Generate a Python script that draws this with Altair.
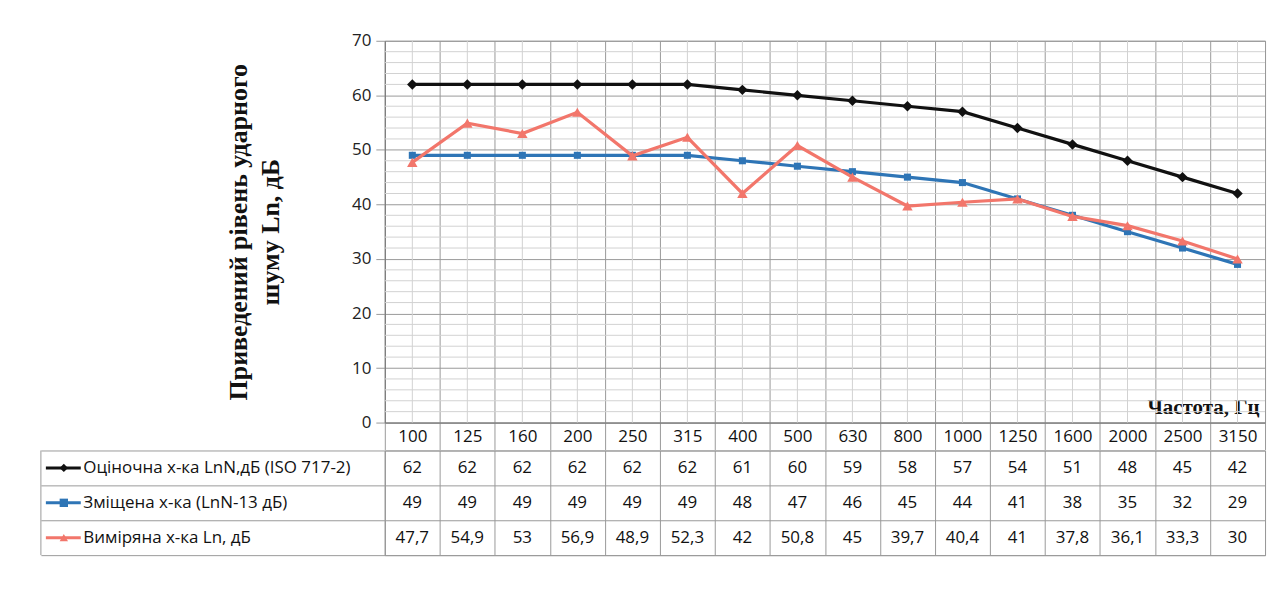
import altair as alt
import pandas as pd

freqs = ["100", "125", "160", "200", "250", "315", "400", "500", "630", "800",
         "1000", "1250", "1600", "2000", "2500", "3150"]
series_names = ["Оціночна х-ка LnN,дБ (ISO 717-2)",
                "Зміщена х-ка (LnN-13 дБ)",
                "Виміряна х-ка Ln, дБ"]
ref_curve = [62, 62, 62, 62, 62, 62, 61, 60, 59, 58, 57, 54, 51, 48, 45, 42]
shifted = [49, 49, 49, 49, 49, 49, 48, 47, 46, 45, 44, 41, 38, 35, 32, 29]
measured = [47.7, 54.9, 53, 56.9, 48.9, 52.3, 42, 50.8, 45, 39.7, 40.4, 41, 37.8, 36.1, 33.3, 30]
y_major = list(range(0, 71, 10))
y_minor = [v for v in range(0, 71, 2) if v % 10]

colors = ["#111111", "#2E75B6", "#F2766B"]
shapes = ["diamond", "square", "triangle-up"]
sizes = [110, 50, 110]

values = [ref_curve, shifted, measured]
rows = []
for s, vals in zip(series_names, values):
    for f, v in zip(freqs, vals):
        rows.append({"freq": f, "series": s, "value": v,
                     "label": f"{v:g}".replace(".", ",")})
df = pd.DataFrame(rows)
keys = pd.DataFrame({"series": series_names})

FONT = "Open Sans"
SERIF = "Liberation Serif"
GRID = "#9a9a9a"
MINOR = "#d2d2d2"

xscale = alt.Scale(type="band", domain=freqs, paddingInner=0, paddingOuter=0)
yscale = alt.Scale(domain=[0, 70], nice=False)

x_axis = alt.Axis(
    title="Частота, Гц", titleFont=SERIF, titleFontWeight="bold", titleFontSize=21,
    titleColor="#111", titleAlign="right", titleX=877, titleY=-9,
    titleBaseline="alphabetic", titleAnchor="end",
    labelAngle=0, labelFont=FONT, labelFontSize=17, labelColor="#111",
    labelBaseline="middle", labelPadding=-13.5, labelOverlap=False,
    ticks=True, tickBand="extent", tickSize=27, tickColor=GRID,
    domainColor="#777", grid=True, gridColor=GRID)
y_axis = alt.Axis(
    values=y_major, title=["Приведений рівень ударного", "шуму  Ln, дБ"],
    titleFont=SERIF, titleFontWeight="bold", titleFontSize=26, titleColor="#111",
    titlePadding=68, titleLineHeight=32,
    labelFont=FONT, labelFontSize=17, labelColor="#222", labelPadding=5,
    tickSize=9, tickColor=GRID, domainColor="#777", grid=True, gridColor=GRID)

X = alt.X("freq:N", sort=freqs, scale=xscale, axis=x_axis, bandPosition=0.5)
Y = alt.Y("value:Q", scale=yscale, axis=y_axis)

minor_h = alt.Chart(pd.DataFrame({"value": y_minor})).mark_rule(
    color=MINOR, strokeWidth=1).encode(y=Y)
minor_v = alt.Chart(pd.DataFrame({"freq": freqs})).mark_rule(
    color=MINOR, strokeWidth=1).encode(x=X)

layers = [minor_h, minor_v]
for s, c, sh, sz in zip(series_names, colors, shapes, sizes):
    base = alt.Chart(df[df["series"] == s]).encode(x=X, y=Y)
    layers.append(base.mark_line(color=c, strokeWidth=3.2))
    layers.append(base.mark_point(color=c, shape=sh, size=sz, filled=True, opacity=1))

top = alt.layer(*layers).properties(width=883, height=383)

# data table under the plot
tx_axis = alt.Axis(title=None, labels=False, ticks=False, domain=False,
                   grid=True, tickBand="extent", gridColor=GRID)
ty_axis = alt.Axis(title=None, tickBand="extent", tickSize=345, tickColor=GRID,
                   labelAlign="left", labelPadding=-42, labelFont=FONT,
                   labelFontSize=17, labelColor="#111", labelLimit=400,
                   domainColor=GRID, grid=True, gridColor=GRID)
tyscale = alt.Scale(type="band", domain=series_names, paddingInner=0, paddingOuter=0)
TX = alt.X("freq:N", sort=freqs, scale=xscale, axis=tx_axis)
TY = alt.Y("series:N", sort=series_names, scale=tyscale, axis=ty_axis, bandPosition=0.5)
cscale = alt.Scale(domain=series_names, range=colors)
sscale = alt.Scale(domain=series_names, range=shapes)

cells = alt.Chart(df).mark_text(font=FONT, fontSize=17, color="#111").encode(
    x=TX, y=TY, text="label:N")
key_line = alt.Chart(keys).mark_rule(strokeWidth=3).encode(
    x=alt.value(-340), x2=alt.value(-305), y=TY,
    color=alt.Color("series:N", scale=cscale, legend=None))
key_pt = alt.Chart(keys).mark_point(filled=True, size=70, opacity=1).encode(
    x=alt.value(-322), y=TY,
    color=alt.Color("series:N", scale=cscale, legend=None),
    shape=alt.Shape("series:N", scale=sscale, legend=None))
left_border = alt.Chart(keys.head(1)).mark_rule(color=GRID).encode(
    x=alt.value(-345), y=alt.value(0), y2=alt.value(105))

table = alt.layer(cells, key_line, key_pt, left_border).properties(width=883, height=105)

chart = alt.vconcat(top, table, spacing=-10).properties(
    padding={"left": 32, "top": 22, "right": 5, "bottom": 5},
    background="white"
).configure_view(stroke=GRID)

chart.save("out.html", embed_options={"renderer": "svg", "actions": False})
